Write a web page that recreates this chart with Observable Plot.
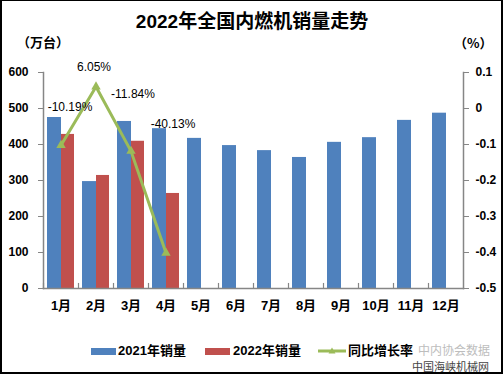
<!DOCTYPE html>
<html>
<head>
<meta charset="utf-8">
<script src="https://cdn.jsdelivr.net/npm/d3@7"></script>
<script src="https://cdn.jsdelivr.net/npm/@observablehq/plot@0.6"></script>
<style>
  html, body { margin: 0; padding: 0; background: #fff; }
  #wrap { position: relative; width: 504px; height: 375px; overflow: hidden; font-family: "Liberation Sans", Arial, "Noto Sans CJK SC", sans-serif; color: #000; }
  #border { position: absolute; left: 0; top: 0; width: 503px; height: 374px; box-sizing: border-box; border-left: 2px solid #000; border-top: 1px solid #000; border-right: 2px solid #000; border-bottom: 2px solid #000; pointer-events: none; }
  .abs { position: absolute; white-space: nowrap; line-height: 1.2; }
  #title { left: 0; width: 504px; top: 11px; text-align: center; font-size: 19px; font-weight: bold; font-family: "Liberation Sans", Arial, "Noto Sans CJK SC", sans-serif; }
  #unitL { left: 17px; top: 34px; font-size: 13px; font-weight: bold; font-family: "Noto Sans CJK SC", sans-serif; }
  #unitR { left: 454px; top: 35px; font-size: 13px; font-weight: bold; font-family: "Noto Sans CJK SC", sans-serif; }
  #chart { left: 0; top: 55px; }
  .leg { font-size: 13px; font-weight: bold; top: 343px; font-family: "Liberation Sans", Arial, "Noto Sans CJK SC", sans-serif; }
  .sw { position: absolute; top: 348px; height: 7px; }
  #wm1 { left: 418px; top: 344px; font-size: 12px; line-height: 1; color: #bdbdbd; font-family: "Noto Sans CJK SC", sans-serif; }
  #wm2 { left: 412px; top: 361px; font-size: 11px; line-height: 1; color: #444; font-family: "Noto Sans CJK SC", sans-serif; }
</style>
</head>
<body>
<div id="wrap">
  <div id="title" class="abs">2022年全国内燃机销量走势</div>
  <div id="unitL" class="abs">（万台）</div>
  <div id="unitR" class="abs">（%）</div>
  <div id="chart" class="abs"></div>
  <div id="legend"></div>
  <div id="wm1" class="abs">中内协会数据</div>
  <div id="wm2" class="abs">中国海峡机械网</div>
  <div id="border"></div>
</div>
<script>
// ---- data ----
const months = ["1月","2月","3月","4月","5月","6月","7月","8月","9月","10月","11月","12月"];
const sales2021 = [475, 297, 464, 444, 417, 397, 383, 364, 406, 419, 467, 487];
const sales2022 = [428, 314, 409, 264];
const growthRate = [-0.1019, 0.0605, -0.1184, -0.4013];
const growthLabels = ["-10.19%", "6.05%", "-11.84%", "-40.13%"];
const leftTicks = [0, 100, 200, 300, 400, 500, 600];
const rightTicks = [-0.5, -0.4, -0.3, -0.2, -0.1, 0, 0.1];
const seriesNames = ["2021年销量", "2022年销量", "同比增长率"];

// ---- style ----
const BLUE = "#4F81BD", RED = "#C0504D", GREEN = "#9BBB59", AXIS = "#868686";
const W = 504, H = 270, ML = 43, MR = 41, MT = 17, MB = 37;
const band = (W - ML - MR) / months.length;
// manual label offsets (pixels) relative to each line point, as in the original
const labelOffsets = [[9, -38], [-2, -20], [2, -57], [7, -129]];

const t2021 = months.map((m, i) => ({month: m, value: sales2021[i]}));
const t2022 = sales2022.map((v, i) => ({month: months[i], value: v}));
const tRate = growthRate.map((v, i) => ({month: months[i], value: v, label: growthLabels[i]}));

// secondary axis mapping: rate -> left-axis units
const rate = d3.scaleLinear([-0.5, 0.1], [0, 600]);

const plot = Plot.plot({
  width: W, height: H,
  marginLeft: ML, marginRight: MR, marginTop: MT, marginBottom: MB,
  style: {fontFamily: '"Liberation Sans", Arial, "Noto Sans CJK SC", sans-serif', background: "transparent"},
  x: {type: "band", domain: months, padding: 0, label: null},
  y: {domain: [0, 600], label: null},
  marks: [
    Plot.barY(t2021, {x: "month", y: "value", fill: BLUE, insetLeft: 4, insetRight: 17}),
    Plot.barY(t2022, {x: "month", y: "value", fill: RED, insetLeft: 18, insetRight: 4}),
    Plot.frame({anchor: "left", stroke: AXIS, strokeWidth: 1.5}),
    Plot.frame({anchor: "right", stroke: AXIS, strokeWidth: 1.5}),
    Plot.frame({anchor: "bottom", stroke: AXIS, strokeWidth: 1.5}),
    Plot.ruleX(months, {x: d => d, dx: -band / 2, y1: 0, y2: 14, stroke: AXIS, strokeWidth: 1.2}),
    Plot.axisY(leftTicks, {anchor: "left", label: null, tickSize: 5, tickPadding: 10, stroke: AXIS, fontSize: 12, fontWeight: "bold", fill: "#000", tickFormat: d => String(d)}),
    Plot.axisY(rightTicks.map(r => rate(r)), {anchor: "right", label: null, tickSize: 5, tickPadding: 7, stroke: AXIS, fontSize: 12, fontWeight: "bold", fill: "#000",
      tickFormat: d => String(+rate.invert(d).toFixed(1))}),
    Plot.axisX({label: null, tickSize: 0, tickPadding: 12, fontSize: 13, fontWeight: "bold", fill: "#000"}),
    Plot.line(tRate, {x: "month", y: d => rate(d.value), stroke: GREEN, strokeWidth: 3}),
    Plot.dot(tRate, {x: "month", y: d => rate(d.value), symbol: "triangle", fill: GREEN, r: 3.5}),
    ...tRate.map((d, i) => Plot.text([d], {x: "month", y: v => rate(v.value), text: "label", dx: labelOffsets[i][0], dy: labelOffsets[i][1], fontSize: 12, fill: "#000"}))
  ]
});
document.getElementById("chart").appendChild(plot);

// ---- legend ----
const leg = document.getElementById("legend");
const legendItems = [
  {name: seriesNames[0], color: BLUE, sx: 91, tx: 118, kind: "bar"},
  {name: seriesNames[1], color: RED, sx: 205, tx: 233, kind: "bar"},
  {name: seriesNames[2], color: GREEN, sx: 318, tx: 348, kind: "line"}
];
for (const it of legendItems) {
  if (it.kind === "bar") {
    const s = document.createElement("div");
    s.className = "sw";
    s.style.left = it.sx + "px"; s.style.width = "25px"; s.style.background = it.color;
    leg.appendChild(s);
  } else {
    const svgNS = "http://www.w3.org/2000/svg";
    const svg = document.createElementNS(svgNS, "svg");
    svg.setAttribute("width", 28); svg.setAttribute("height", 12);
    svg.style.position = "absolute"; svg.style.left = it.sx + "px"; svg.style.top = "345px";
    const ln = document.createElementNS(svgNS, "line");
    ln.setAttribute("x1", 0); ln.setAttribute("x2", 28); ln.setAttribute("y1", 6); ln.setAttribute("y2", 6);
    ln.setAttribute("stroke", it.color); ln.setAttribute("stroke-width", 3);
    const tri = document.createElementNS(svgNS, "path");
    tri.setAttribute("d", "M14,2.5L17.5,8.5L10.5,8.5Z"); tri.setAttribute("fill", it.color);
    svg.appendChild(ln); svg.appendChild(tri);
    leg.appendChild(svg);
  }
  const t = document.createElement("div");
  t.className = "abs leg";
  t.style.left = it.tx + "px";
  t.textContent = it.name;
  leg.appendChild(t);
}
</script>
</body>
</html>
